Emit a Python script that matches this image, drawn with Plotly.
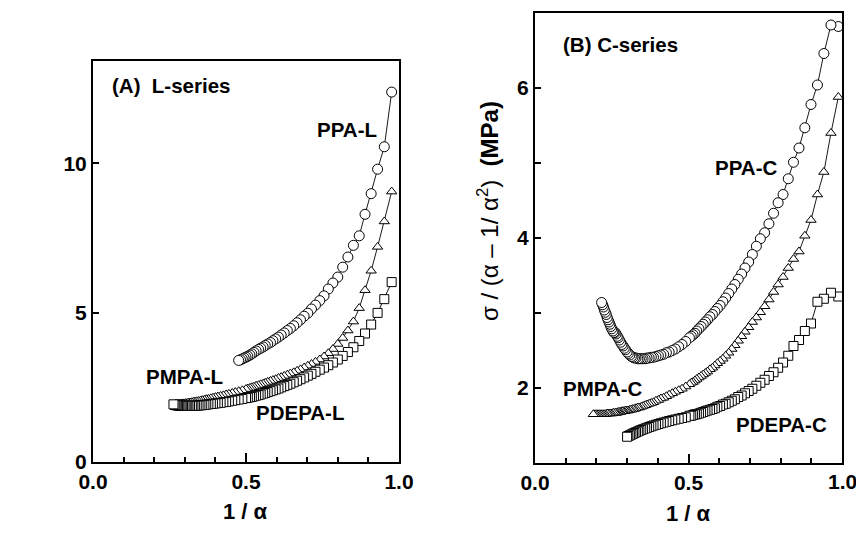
import plotly.graph_objects as go

# ---------------- data ----------------
x_tick_vals = [0.0, 0.5, 1.0]
x_tick_text = ["0.0", "0.5", "1.0"]

# Panel A : L-series
ppa_l_x = [0.976, 0.952, 0.930, 0.909, 0.889, 0.870, 0.851, 0.833, 0.816, 0.800, 0.784, 0.769, 0.755, 0.741,
           0.727, 0.714, 0.702, 0.690, 0.678, 0.667, 0.656, 0.645, 0.635, 0.625, 0.615, 0.606, 0.597, 0.588,
           0.580, 0.571, 0.563, 0.556, 0.548, 0.541, 0.533, 0.526, 0.519, 0.513, 0.506, 0.500, 0.494, 0.488,
           0.482, 0.476]
ppa_l_y = [12.38, 10.55, 9.80, 8.98, 8.29, 7.57, 7.25, 6.86, 6.52, 6.19, 5.99, 5.79, 5.56, 5.40,
           5.25, 5.12, 4.98, 4.88, 4.76, 4.66, 4.56, 4.47, 4.40, 4.32, 4.25, 4.18, 4.12, 4.06,
           4.00, 3.95, 3.90, 3.85, 3.81, 3.77, 3.72, 3.67, 3.62, 3.58, 3.54, 3.51, 3.48, 3.45,
           3.42, 3.40]

pmpa_l_x = [0.976, 0.952, 0.930, 0.909, 0.889, 0.870, 0.851, 0.833, 0.816, 0.800, 0.784, 0.769, 0.755, 0.741,
            0.727, 0.714, 0.702, 0.690, 0.678, 0.667, 0.656, 0.645, 0.635, 0.625, 0.615, 0.606, 0.597, 0.588,
            0.580, 0.571, 0.563, 0.556, 0.548, 0.541, 0.533, 0.526, 0.519, 0.513, 0.506, 0.500, 0.488, 0.476,
            0.465, 0.455, 0.444, 0.435, 0.426, 0.417, 0.408, 0.400, 0.392, 0.385, 0.377, 0.370, 0.364, 0.357,
            0.351, 0.345, 0.339, 0.333, 0.328, 0.323, 0.317, 0.312, 0.308, 0.303, 0.299, 0.294, 0.290, 0.286,
            0.282, 0.278, 0.274, 0.270]
pmpa_l_y = [9.05, 8.05, 7.20, 6.40, 5.75, 5.15, 4.70, 4.40, 4.15, 3.95, 3.78, 3.64, 3.53, 3.43,
            3.35, 3.28, 3.22, 3.16, 3.10, 3.05, 3.00, 2.96, 2.92, 2.88, 2.84, 2.81, 2.77, 2.74,
            2.71, 2.68, 2.65, 2.62, 2.60, 2.57, 2.55, 2.52, 2.50, 2.48, 2.46, 2.44, 2.40, 2.37,
            2.34, 2.31, 2.28, 2.26, 2.23, 2.21, 2.19, 2.17, 2.15, 2.13, 2.11, 2.10, 2.08, 2.07,
            2.05, 2.04, 2.03, 2.02, 2.01, 2.00, 1.99, 1.98, 1.97, 1.97, 1.96, 1.96, 1.95, 1.95,
            1.95, 1.95, 1.95, 1.95]

pdepa_l_x = [0.976, 0.952, 0.930, 0.909, 0.889, 0.870, 0.851, 0.833, 0.816, 0.800, 0.784, 0.769, 0.755, 0.741,
             0.727, 0.714, 0.702, 0.690, 0.678, 0.667, 0.656, 0.645, 0.635, 0.625, 0.615, 0.606, 0.597, 0.588,
             0.580, 0.571, 0.563, 0.556, 0.548, 0.541, 0.533, 0.526, 0.519, 0.513, 0.506, 0.500, 0.488, 0.476,
             0.465, 0.455, 0.444, 0.435, 0.426, 0.417, 0.408, 0.400, 0.392, 0.385, 0.377, 0.370, 0.364, 0.357,
             0.351, 0.345, 0.339, 0.333, 0.328, 0.323, 0.317, 0.312, 0.308, 0.303, 0.299, 0.294, 0.290, 0.286,
             0.282, 0.278, 0.274, 0.270, 0.267, 0.263]
pdepa_l_y = [6.02, 5.45, 4.99, 4.60, 4.30, 4.05, 3.84, 3.68, 3.55, 3.43, 3.33, 3.24, 3.16, 3.09,
             3.02, 2.95, 2.89, 2.83, 2.77, 2.72, 2.67, 2.62, 2.58, 2.54, 2.50, 2.46, 2.43, 2.40,
             2.37, 2.34, 2.31, 2.29, 2.26, 2.24, 2.22, 2.20, 2.18, 2.17, 2.15, 2.14, 2.11, 2.09,
             2.07, 2.05, 2.03, 2.01, 2.00, 1.98, 1.97, 1.96, 1.95, 1.94, 1.93, 1.92, 1.91, 1.90,
             1.90, 1.89, 1.89, 1.88, 1.88, 1.88, 1.88, 1.88, 1.88, 1.88, 1.88, 1.88, 1.88, 1.88,
             1.89, 1.89, 1.90, 1.90, 1.91, 1.93]

# Panel B : C-series
ppa_c_x = [0.988, 0.964, 0.941, 0.920, 0.899, 0.879, 0.860, 0.842, 0.825, 0.808, 0.792, 0.777, 0.762, 0.748,
           0.734, 0.721, 0.708, 0.696, 0.684, 0.673, 0.662, 0.651, 0.641, 0.631, 0.621, 0.612, 0.603, 0.594,
           0.586, 0.578, 0.570, 0.562, 0.555, 0.548, 0.541, 0.534, 0.527, 0.521, 0.515, 0.509, 0.503, 0.491,
           0.479, 0.468, 0.457, 0.447, 0.437, 0.428, 0.419, 0.410, 0.402, 0.394, 0.386, 0.379, 0.372, 0.365,
           0.359, 0.352, 0.346, 0.340, 0.335, 0.329, 0.324, 0.319, 0.314, 0.309, 0.304, 0.300, 0.295, 0.291,
           0.287, 0.283, 0.279, 0.275, 0.271, 0.268, 0.264, 0.261, 0.257, 0.254, 0.250, 0.247, 0.244, 0.241,
           0.238, 0.235, 0.232, 0.229, 0.226, 0.223, 0.220, 0.217]
ppa_c_y = [6.82, 6.84, 6.46, 6.04, 5.78, 5.47, 5.20, 5.01, 4.79, 4.58, 4.47, 4.33, 4.19, 4.07,
           3.99, 3.89, 3.78, 3.68, 3.60, 3.52, 3.45, 3.38, 3.32, 3.26, 3.20, 3.15, 3.10, 3.06,
           3.02, 2.98, 2.95, 2.91, 2.88, 2.85, 2.82, 2.79, 2.76, 2.73, 2.71, 2.69, 2.67, 2.62,
           2.58, 2.55, 2.52, 2.50, 2.48, 2.47, 2.45, 2.44, 2.43, 2.42, 2.41, 2.41, 2.40, 2.40,
           2.39, 2.39, 2.39, 2.39, 2.39, 2.40, 2.40, 2.41, 2.42, 2.44, 2.46, 2.48, 2.51, 2.53,
           2.56, 2.58, 2.61, 2.64, 2.67, 2.69, 2.72, 2.74, 2.74, 2.76, 2.79, 2.82, 2.85, 2.88,
           2.91, 2.94, 2.98, 3.01, 3.04, 3.08, 3.11, 3.14]

pmpa_c_x = [0.988, 0.964, 0.941, 0.920, 0.899, 0.879, 0.860, 0.842, 0.825, 0.808, 0.792, 0.777, 0.762, 0.748,
            0.734, 0.721, 0.708, 0.696, 0.684, 0.673, 0.662, 0.651, 0.641, 0.631, 0.621, 0.612, 0.603, 0.594,
            0.586, 0.578, 0.570, 0.562, 0.555, 0.548, 0.541, 0.534, 0.527, 0.521, 0.515, 0.509, 0.503, 0.491,
            0.479, 0.468, 0.457, 0.447, 0.437, 0.428, 0.419, 0.410, 0.402, 0.394, 0.386, 0.379, 0.372, 0.365,
            0.359, 0.352, 0.346, 0.340, 0.335, 0.329, 0.324, 0.319, 0.314, 0.309, 0.304, 0.300, 0.295, 0.291,
            0.287, 0.283, 0.279, 0.275, 0.271, 0.268, 0.264, 0.261, 0.255, 0.250, 0.245, 0.240, 0.235, 0.230,
            0.225, 0.220, 0.215, 0.210, 0.205, 0.200, 0.195, 0.190]
pmpa_c_y = [5.88, 5.40, 4.88, 4.58, 4.24, 4.03, 3.82, 3.72, 3.60, 3.48, 3.38, 3.28, 3.18, 3.09,
            3.01, 2.94, 2.88, 2.81, 2.75, 2.69, 2.63, 2.57, 2.52, 2.47, 2.43, 2.39, 2.36, 2.33,
            2.30, 2.27, 2.25, 2.22, 2.20, 2.18, 2.16, 2.14, 2.12, 2.10, 2.08, 2.07, 2.05, 2.02,
            1.99, 1.97, 1.95, 1.93, 1.91, 1.89, 1.87, 1.86, 1.84, 1.83, 1.81, 1.80, 1.79, 1.78,
            1.77, 1.76, 1.75, 1.74, 1.74, 1.73, 1.72, 1.72, 1.71, 1.71, 1.70, 1.70, 1.70, 1.69,
            1.69, 1.69, 1.68, 1.68, 1.68, 1.67, 1.67, 1.67, 1.67, 1.66, 1.66, 1.66, 1.66, 1.65,
            1.65, 1.65, 1.65, 1.65, 1.65, 1.65, 1.65, 1.65]

pdepa_c_x = [0.988, 0.964, 0.941, 0.920, 0.899, 0.879, 0.860, 0.842, 0.825, 0.808, 0.792, 0.777, 0.762, 0.748,
             0.734, 0.721, 0.708, 0.696, 0.684, 0.673, 0.662, 0.651, 0.641, 0.631, 0.621, 0.612, 0.603, 0.594,
             0.586, 0.578, 0.570, 0.562, 0.555, 0.548, 0.541, 0.534, 0.527, 0.521, 0.515, 0.509, 0.503, 0.491,
             0.479, 0.468, 0.457, 0.447, 0.437, 0.428, 0.419, 0.410, 0.402, 0.394, 0.386, 0.379, 0.372, 0.365,
             0.359, 0.352, 0.346, 0.340, 0.335, 0.329, 0.324, 0.319, 0.314, 0.309, 0.304, 0.300]
pdepa_c_y = [3.22, 3.27, 3.19, 3.15, 2.86, 2.76, 2.64, 2.56, 2.43, 2.34, 2.27, 2.21, 2.16, 2.11,
             2.07, 2.03, 1.99, 1.96, 1.93, 1.90, 1.88, 1.85, 1.83, 1.81, 1.79, 1.78, 1.76, 1.75,
             1.73, 1.72, 1.71, 1.70, 1.69, 1.68, 1.67, 1.66, 1.65, 1.65, 1.64, 1.63, 1.63, 1.61,
             1.60, 1.59, 1.58, 1.57, 1.56, 1.55, 1.54, 1.53, 1.52, 1.51, 1.50, 1.49, 1.48, 1.47,
             1.46, 1.45, 1.44, 1.43, 1.42, 1.41, 1.40, 1.39, 1.38, 1.37, 1.36, 1.35]

# ---------------- figure ----------------
FONT = "Liberation Sans, Arial, Helvetica, sans-serif"
fig = go.Figure()

def add_series(x, y, symbol, size, xa, ya):
    fig.add_trace(go.Scatter(
        x=x, y=y, mode="lines+markers", xaxis=xa, yaxis=ya, showlegend=False,
        line=dict(color="black", width=0.9),
        marker=dict(symbol=symbol, size=size, color="white", line=dict(color="black", width=1)),
    ))

add_series(ppa_l_x, ppa_l_y, "circle", 10, "x", "y")
add_series(pmpa_l_x, pmpa_l_y, "triangle-up", 9, "x", "y")
add_series(pdepa_l_x, pdepa_l_y, "square", 9, "x", "y")
add_series(ppa_c_x, ppa_c_y, "circle", 10, "x2", "y2")
add_series(pmpa_c_x, pmpa_c_y, "triangle-up", 9, "x2", "y2")
add_series(pdepa_c_x, pdepa_c_y, "square", 9, "x2", "y2")

W, H = 856, 537
TICK_SIZE = 21
tickfont = dict(family=FONT, size=TICK_SIZE, color="black", weight="bold")
common = dict(showline=True, linecolor="black", linewidth=2, mirror=True, showgrid=False, zeroline=False,
              ticks="inside", tickcolor="black", tickfont=tickfont, automargin=False)
minor_x = dict(dtick=0.1, tick0=0, ticks="inside", ticklen=5, tickwidth=1.5, tickcolor="black")

fig.update_layout(
    template="none",
    width=W, height=H, margin=dict(l=0, r=0, t=0, b=0, pad=0),
    paper_bgcolor="white", plot_bgcolor="white",
    xaxis=dict(domain=[93 / W, 399 / W], range=[0, 1.0], anchor="y",
               tickmode="array", tickvals=x_tick_vals, ticktext=x_tick_text,
               ticklen=9, tickwidth=2, minor=minor_x, **common),
    yaxis=dict(domain=[1 - 462 / H, 1 - 61 / H], range=[0, 13.42], anchor="x", tick0=0, dtick=5,
               ticklen=6, tickwidth=2, **common),
    # right panel: last label drawn separately below so it is not dropped at the page edge
    xaxis2=dict(domain=[535 / W, 842 / W], range=[0, 1.0], anchor="y2",
                tickmode="array", tickvals=x_tick_vals, ticktext=x_tick_text[:-1] + [""],
                ticklen=9, tickwidth=2, minor=minor_x, **common),
    yaxis2=dict(domain=[1 - 463 / H, 1 - 13 / H], range=[1, 7], anchor="x2", tick0=0, dtick=2,
                ticklen=6, tickwidth=2,
                minor=dict(dtick=1, tick0=0, ticks="inside", ticklen=6, tickwidth=2, tickcolor="black"),
                **common),
)

# last x tick label of the right panel
fig.add_annotation(text=x_tick_text[-1], x=x_tick_vals[-1], xref="x2", y=1 - 481 / H, yref="paper",
                   showarrow=False, font=tickfont, xanchor="center", yanchor="middle")

lab = dict(family=FONT, size=20.5, color="black", weight="bold")
NB = "\u00a0"
annots = [
    ("(A)" + NB + NB + "L-series", 0.254, 12.6, "x", "y"),
    ("PPA-L", 0.829, 11.12, "x", "y"),
    ("PMPA-L", 0.30, 2.87, "x", "y"),
    ("PDEPA-L", 0.678, 1.66, "x", "y"),
    ("(B)" + NB + "C-series", 0.279, 6.58, "x2", "y2"),
    ("PPA-C", 0.688, 4.94, "x2", "y2"),
    ("PMPA-C", 0.22, 2.0, "x2", "y2"),
    ("PDEPA-C", 0.804, 1.52, "x2", "y2"),
]
for t, x, y, xr, yr in annots:
    fig.add_annotation(text=t, x=x, y=y, xref=xr, yref=yr, showarrow=False, font=lab,
                       xanchor="center", yanchor="middle")

# axis titles
fig.add_annotation(text="1 / \u03b1", x=245 / W, y=1 - 511 / H, xref="paper", yref="paper", showarrow=False,
                   font=dict(family=FONT, size=22, color="black", weight="bold"), xanchor="center", yanchor="middle")
fig.add_annotation(text="1 / \u03b1", x=688 / W, y=1 - 513 / H, xref="paper", yref="paper", showarrow=False,
                   font=dict(family=FONT, size=22, color="black", weight="bold"), xanchor="center", yanchor="middle")
fig.add_annotation(text="\u03c3 / (\u03b1 \u2013 1/ \u03b1<sup>2</sup>)" + NB + NB + "<b>(MPa)</b>",
                   x=488 / W, y=1 - 211 / H, xref="paper", yref="paper", showarrow=False, textangle=-90,
                   font=dict(family=FONT, size=24, color="black"), xanchor="center", yanchor="middle")

fig.write_html("out.html", config={"displayModeBar": False},
               post_script="document.body.style.margin='0';document.body.style.padding='0';"
                           "document.body.style.overflow='hidden';")
